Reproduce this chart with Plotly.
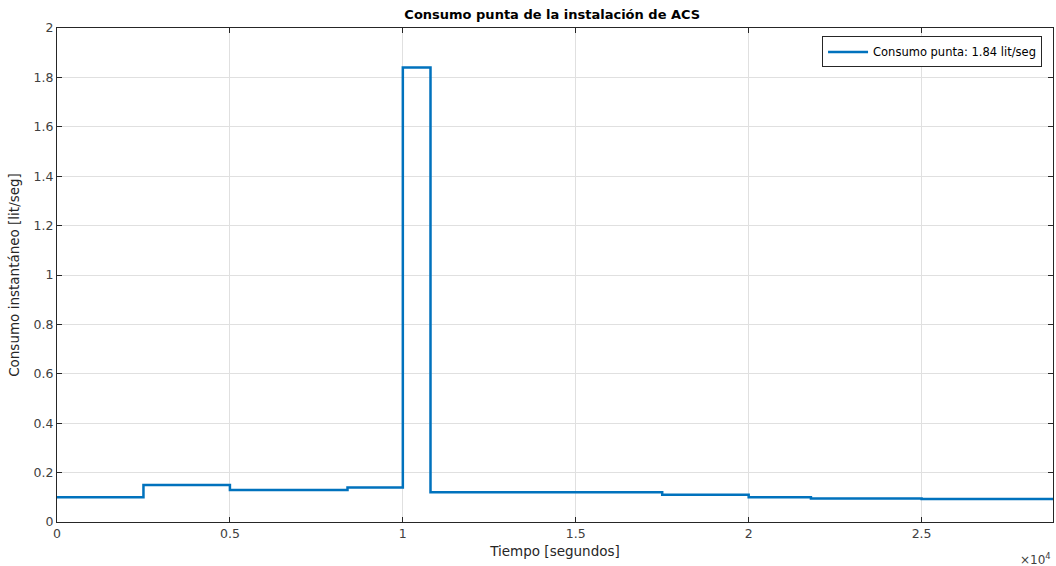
import plotly.graph_objects as go

# Step data (start time in seconds, flow in lit/seg)
step_starts = [0, 2500, 5000, 8400, 10000, 10800, 17500, 20000, 21800, 25000, 28800]
step_values = [0.10, 0.15, 0.13, 0.14, 1.84, 0.12, 0.11, 0.10, 0.095, 0.093, 0.093]

x_tickvals = [0, 5000, 10000, 15000, 20000, 25000]
x_ticktext = ["0", "0.5", "1", "1.5", "2", "2.5"]
y_tickvals = [0, 0.2, 0.4, 0.6, 0.8, 1, 1.2, 1.4, 1.6, 1.8, 2]
y_ticktext = ["0", "0.2", "0.4", "0.6", "0.8", "1", "1.2", "1.4", "1.6", "1.8", "2"]

FONT = "DejaVu Sans"
AX = "#262626"

fig = go.Figure()
fig.add_trace(go.Scatter(
    x=step_starts, y=step_values, mode="lines", line_shape="hv",
    line=dict(color="#0072BD", width=2.5),
    name="Consumo punta: 1.84 lit/seg",
))

axis_common = dict(
    showline=True, linecolor=AX, linewidth=1, mirror="ticks",
    ticks="inside", ticklen=5, tickcolor=AX,
    showgrid=True, gridcolor="#E0E0E0", gridwidth=1, zeroline=False,
    tickfont=dict(family=FONT, size=12.5, color="#404040"),
    automargin=False,
)

fig.update_layout(
    width=1056, height=566,
    margin=dict(l=57, r=3, t=28, b=44),
    paper_bgcolor="white", plot_bgcolor="white",
    font=dict(family=FONT, color="#262626"),
    title=dict(text="<b>Consumo punta de la instalación de ACS</b>",
               x=0.523, xanchor="center", y=0.975, yanchor="middle",
               font=dict(family=FONT, size=13, color="black"), automargin=False),
    xaxis=dict(range=[0, 28800], tickvals=x_tickvals, ticktext=x_ticktext,
               title=dict(text="Tiempo [segundos]", standoff=6,
                          font=dict(family=FONT, size=13.5, color="#262626")),
               **axis_common),
    yaxis=dict(range=[0, 2], tickvals=y_tickvals, ticktext=y_ticktext,
               title=dict(text="Consumo instantáneo [lit/seg]", standoff=10,
                          font=dict(family=FONT, size=13.5, color="#262626")),
               **axis_common),
    showlegend=True,
    legend=dict(x=0.989, y=0.983, xanchor="right", yanchor="top",
                bgcolor="white", bordercolor=AX, borderwidth=1,
                font=dict(family=FONT, size=11.5, color="black"),
                itemwidth=40, tracegroupgap=0),
    annotations=[dict(text="×10<sup>4</sup>", xref="paper", yref="paper",
                      x=1.0, y=-0.055, xanchor="right", yanchor="top",
                      showarrow=False,
                      font=dict(family=FONT, size=12, color="#404040"))],
)

fig.write_html("out.html", config={"displayModeBar": False},
               post_script="document.body.style.margin='0';document.body.style.overflow='hidden';")
